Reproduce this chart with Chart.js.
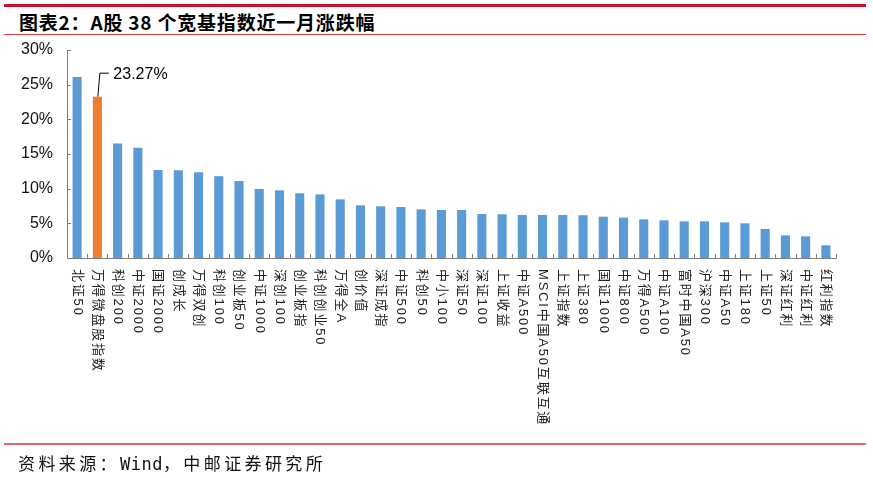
<!DOCTYPE html>
<html>
<head>
<meta charset="utf-8">
<script src="https://cdn.jsdelivr.net/npm/chart.js@4.4.1/dist/chart.umd.min.js"></script>
<style>
  html, body { margin: 0; padding: 0; background: #fff; }
  #wrap { position: relative; width: 873px; height: 478px; overflow: hidden; }
  .line { position: absolute; left: 4px; width: 862px; }
  #topLine { top: 4px; height: 3px; background: #c8102e; }
  #titleLine { top: 34px; height: 1px; background: #d43c3c; }
  #bottomLine { top: 443px; height: 2px; background: #e06a6a; }
  #title { position: absolute; left: 19px; top: 8px; font: bold 19px "Noto Sans CJK SC", sans-serif; letter-spacing: 0.8px; color: #000; white-space: nowrap; }
  #source { position: absolute; left: 18px; top: 450px; font: 17px "Noto Sans CJK SC", sans-serif; letter-spacing: 3.4px; color: #111; white-space: nowrap; }
  #source .en { font-family: "DejaVu Sans Mono", monospace; letter-spacing: 0.5px; }
  canvas { position: absolute; left: 0; top: 0; }
</style>
</head>
<body>
<div id="wrap">
  <div class="line" id="topLine"></div>
  <div id="title">图表2：A股 38 个宽基指数近一月涨跌幅</div>
  <div class="line" id="titleLine"></div>
  <canvas id="chart" width="873" height="478"></canvas>
  <div class="line" id="bottomLine"></div>
  <div id="source">资料来源：<span class="en">Wind</span>，中邮证券研究所</div>
</div>
<script>
const categories = [
  "北证50", "万得微盘股指数", "科创200", "中证2000", "国证2000", "创成长", "万得双创",
  "科创100", "创业板50", "中证1000", "深创100", "创业板指", "科创创业50", "万得全A",
  "创价值", "深证成指", "中证500", "科创50", "中小100", "深证50", "深证100", "上证收益",
  "中证A500", "MSCI中国A50互联互通", "上证指数", "上证380", "国证1000", "中证800",
  "万得A500", "中证A100", "富时中国A50", "沪深300", "中证A50", "上证180", "上证50",
  "深证红利", "中证红利", "红利指数"
];
const changes = [
  26.1, 23.27, 16.5, 15.9, 12.7, 12.65, 12.35,
  11.8, 11.1, 9.95, 9.76, 9.33, 9.18, 8.46,
  7.6, 7.45, 7.36, 7.02, 6.92, 6.92, 6.35, 6.3,
  6.2, 6.2, 6.2, 6.17, 5.96, 5.82,
  5.57, 5.43, 5.29, 5.29, 5.14, 5.0, 4.18,
  3.27, 3.13, 1.83
];
const yTicks = [0, 5, 10, 15, 20, 25, 30];
const highlightIndex = 1;
const highlightLabel = "23.27%";

const blue = "#5b9bd5";
const orange = "#ed7d31";
const axisColor = "#7f7f7f";
const labelFont = '13px "Liberation Sans", "Noto Sans CJK SC", sans-serif';

const extras = {
  id: "extras",
  afterDraw(chart) {
    const ctx = chart.ctx;
    const x = chart.scales.x;
    const y = chart.scales.y;
    const area = chart.chartArea;
    ctx.save();

    // small inside ticks on x axis, between categories
    ctx.strokeStyle = axisColor;
    ctx.lineWidth = 1;
    const step = x.getPixelForValue(1) - x.getPixelForValue(0);
    for (let i = 0; i <= categories.length; i++) {
      const px = Math.round(x.getPixelForValue(0) - step / 2 + step * i) + 0.5;
      ctx.beginPath();
      ctx.moveTo(px, area.bottom);
      ctx.lineTo(px, area.bottom - 4);
      ctx.stroke();
    }
    // inside ticks on y axis
    yTicks.forEach(v => {
      const py = Math.round(y.getPixelForValue(v)) + 0.5;
      ctx.beginPath();
      ctx.moveTo(area.left, py);
      ctx.lineTo(area.left + 4, py);
      ctx.stroke();
    });

    // rotated category labels, reading top to bottom
    ctx.fillStyle = "#222";
    ctx.font = labelFont;
    ctx.letterSpacing = "1.8px";
    ctx.textAlign = "left";
    ctx.textBaseline = "middle";
    categories.forEach((c, i) => {
      ctx.save();
      ctx.translate(x.getPixelForValue(i), area.bottom + 11);
      ctx.rotate(Math.PI / 2);
      ctx.fillText(c, 0, 0);
      ctx.restore();
    });
    ctx.letterSpacing = "0px";

    // callout for highlighted bar
    const bx = x.getPixelForValue(highlightIndex);
    const by = y.getPixelForValue(changes[highlightIndex]);
    const ly = by - 23.5;
    ctx.strokeStyle = "#000";
    ctx.beginPath();
    ctx.moveTo(bx + 0.5, by);
    ctx.lineTo(bx + 2.5, ly);
    ctx.lineTo(bx + 11.5, ly);
    ctx.stroke();
    ctx.fillStyle = "#000";
    ctx.font = '16px "Liberation Sans", Arial, sans-serif';
    ctx.textBaseline = "middle";
    ctx.fillText(highlightLabel, bx + 16, ly + 1);

    ctx.restore();
  }
};

new Chart(document.getElementById("chart"), {
  type: "bar",
  data: {
    labels: categories,
    datasets: [{
      data: changes,
      backgroundColor: changes.map((_, i) => i === highlightIndex ? orange : blue),
      barPercentage: 0.45,
      categoryPercentage: 1.0
    }]
  },
  options: {
    responsive: false,
    animation: false,
    layout: { padding: { left: 0, right: 37, top: 50, bottom: 220 } },
    plugins: {
      legend: { display: false },
      tooltip: { enabled: false }
    },
    scales: {
      x: {
        grid: { display: false, drawTicks: false },
        border: { display: true, color: axisColor, width: 1 },
        ticks: { display: false }
      },
      y: {
        min: 0,
        max: 30,
        afterFit: s => { s.width = 67; },
        afterBuildTicks: s => { s.ticks = yTicks.map(v => ({ value: v })); },
        grid: { display: false, drawTicks: false },
        border: { display: true, color: axisColor, width: 1 },
        ticks: {
          padding: 14,
          color: "#111",
          font: { family: '"Liberation Sans", Arial, sans-serif', size: 16 },
          callback: v => v + "%"
        }
      }
    }
  },
  plugins: [extras]
});
</script>
</body>
</html>
